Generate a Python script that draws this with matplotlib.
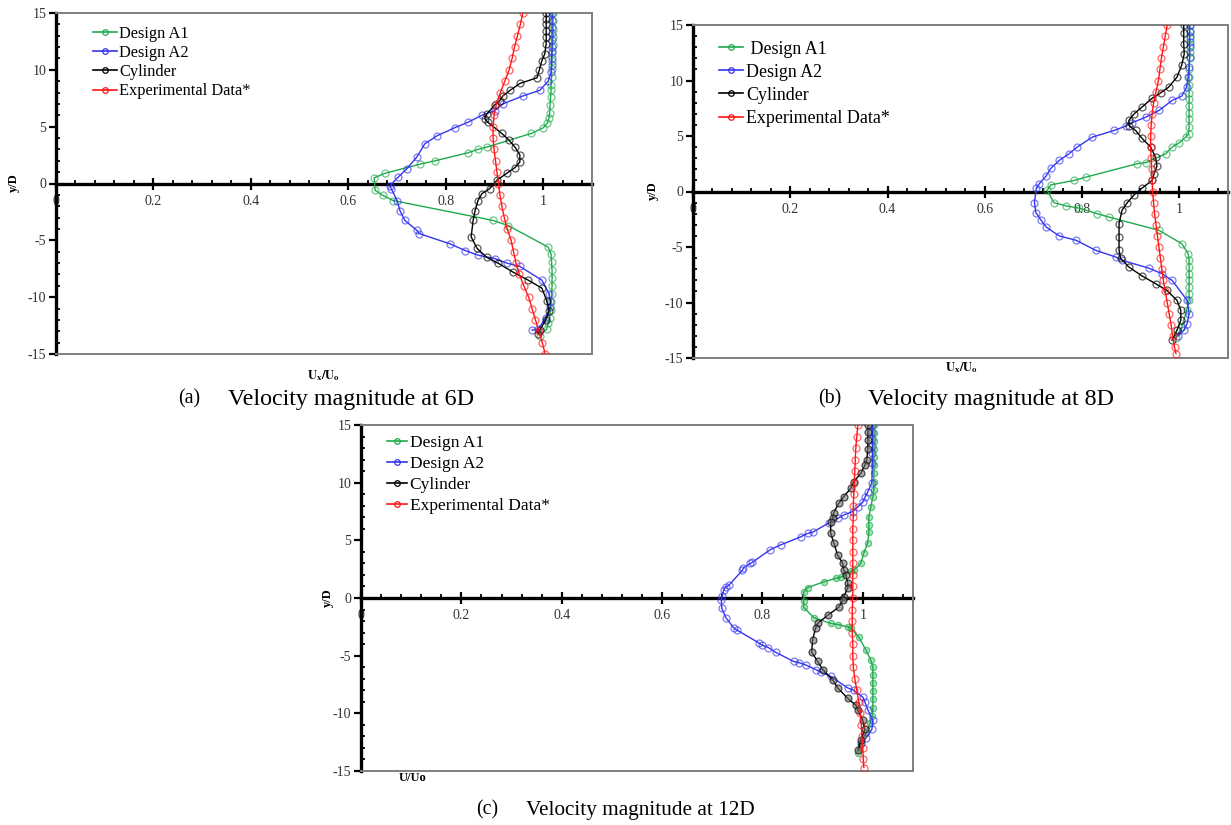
import matplotlib
matplotlib.use('Agg')
import matplotlib.pyplot as plt
from matplotlib.ticker import MultipleLocator, FuncFormatter
from matplotlib.lines import Line2D

plt.rcParams['font.family'] = ['Liberation Serif', 'DejaVu Serif']
plt.rcParams['mathtext.fontset'] = 'stix'
plt.rcParams['axes.unicode_minus'] = False

# ---------------- data ----------------
labels = ['Design A1', 'Design A2', 'Cylinder', 'Experimental Data*']
labels_b = [' Design A1', 'Design A2', 'Cylinder', 'Experimental Data*']
cap_tags = ['(a)', '(b)', '(c)']
cap_texts = ['Velocity magnitude at 6D', 'Velocity magnitude at 8D', 'Velocity magnitude at 12D']
x_ticks = [0, 0.2, 0.4, 0.6, 0.8, 1]
y_ticks = [-15, -10, -5, 0, 5, 10, 15]

# Panel (a) 6D
a_A1_y = [15, 14.3, 13.6, 12.9, 12.2, 11.5, 10.8, 10.1, 9.4, 8.7, 8.2, 7.6, 6.9, 6.2, 5.8, 5.3, 4.9, 4.4,
          3.2, 3.0, 2.7, 2.0, 1.7, 0.9, 0.5, -0.6, -1.05, -1.5, -3.25, -3.7, -5.6, -6.2, -6.9, -7.6,
          -8.3, -9.0, -9.7, -10.4, -11.1, -11.8, -12.3, -12.8, -13.4]
a_A1_u = [1.02, 1.02, 1.02, 1.02, 1.019, 1.018, 1.018, 1.017, 1.017, 1.016, 1.016, 1.015, 1.014, 1.013,
          1.012, 1.008, 1.0, 0.975, 0.884, 0.866, 0.845, 0.778, 0.747, 0.675, 0.653, 0.655, 0.671, 0.692,
          0.897, 0.928, 1.01, 1.016, 1.017, 1.018, 1.018, 1.018, 1.017, 1.016, 1.015, 1.013, 1.01, 1.007, 0.993]
a_A2_y = [15, 14.4, 13.8, 13.2, 12.6, 12.0, 11.7, 11.0, 10.4, 9.8, 9.0, 8.2, 7.7, 7.0, 6.4, 6.0, 5.4, 4.9,
          4.2, 3.5, 2.3, 1.3, 0.55, -0.2, -0.45, -1.5, -2.4, -3.25, -4.1, -4.4, -5.3, -5.9, -6.3, -6.6,
          -7.0, -7.3, -8.5, -9.7, -10.3, -10.9, -11.8, -12.8, -12.9]
a_A2_u = [1.018, 1.018, 1.018, 1.018, 1.018, 1.018, 1.018, 1.017, 1.017, 1.016, 1.01, 0.993, 0.958, 0.917,
          0.90, 0.874, 0.846, 0.818, 0.782, 0.757, 0.74, 0.72, 0.702, 0.685, 0.688, 0.70, 0.706, 0.716,
          0.74, 0.745, 0.808, 0.84, 0.866, 0.90, 0.925, 0.952, 0.997, 1.012, 1.014, 1.014, 1.005, 0.99, 0.977]
a_Cyl_y = [15, 14.5, 14.0, 13.4, 12.9, 12.3, 11.4, 10.8, 10.0, 9.3, 8.8, 8.2, 7.7, 7.3, 6.9, 6.1, 5.7, 5.4,
           4.4, 3.8, 3.2, 2.5, 1.9, 1.4, 0.9, 0.3, -0.45, -0.9, -1.5, -2.4, -3.25, -4.7, -5.7, -6.5, -7.0,
           -7.8, -8.5, -9.2, -10.3, -11.2, -12.0, -12.9, -13.2]
a_Cyl_u = [1.006, 1.006, 1.006, 1.006, 1.006, 1.006, 1.003, 0.997, 0.992, 0.987, 0.952, 0.932, 0.917, 0.911,
           0.90, 0.884, 0.880, 0.886, 0.915, 0.93, 0.942, 0.952, 0.952, 0.942, 0.925, 0.905, 0.89, 0.874,
           0.866, 0.86, 0.856, 0.852, 0.864, 0.884, 0.907, 0.938, 0.969, 0.997, 1.007, 1.012, 1.005, 0.993, 0.99]
a_Exp_y = [15, 14, 13, 12, 11, 10, 9, 8, 7, 6, 5, 4, 3, 2, 1, 0, -1, -2, -3, -4, -5, -6, -7, -8, -9, -10,
           -11, -12, -13, -14, -15]
a_Exp_u = [0.958, 0.953, 0.947, 0.941, 0.936, 0.930, 0.921, 0.912, 0.904, 0.899, 0.897, 0.897, 0.899, 0.902,
           0.905, 0.908, 0.911, 0.915, 0.920, 0.926, 0.934, 0.939, 0.944, 0.951, 0.960, 0.970, 0.977, 0.984,
           0.991, 0.998, 1.004]

# Panel (b) 8D
b_A1_y = [15, 14.4, 13.8, 13.2, 12.6, 12.0, 11.0, 10.3, 9.6, 8.9, 8.3, 7.7, 7.1, 6.5, 5.8, 5.2, 4.9, 4.4,
          4.0, 3.4, 2.6, 2.5, 1.3, 1.0, 0.6, 0.1, -1.0, -1.3, -1.5, -2.0, -2.3, -3.5, -4.7, -5.6, -6.2,
          -6.8, -7.4, -8.0, -8.6, -9.2, -9.8, -10.7, -12.2, -13.2]
b_A1_u = [1.021, 1.021, 1.021, 1.021, 1.021, 1.021, 1.02, 1.02, 1.02, 1.02, 1.02, 1.02, 1.02, 1.02, 1.02,
          1.019, 1.013, 1.0, 0.985, 0.972, 0.931, 0.913, 0.808, 0.784, 0.736, 0.728, 0.742, 0.767, 0.794,
          0.831, 0.855, 0.958, 1.005, 1.018, 1.02, 1.02, 1.02, 1.02, 1.02, 1.02, 1.02, 1.015, 1.005, 0.993]
b_A2_y = [15, 14.5, 14.0, 13.5, 13.0, 12.1, 11.2, 10.3, 9.4, 8.6, 8.2, 7.3, 6.7, 6.2, 5.9, 5.5, 4.9, 4.0,
          3.4, 2.8, 2.1, 1.4, 0.7, 0.3, -1.0, -1.9, -2.6, -3.2, -4.0, -4.4, -5.3, -5.9, -6.2, -6.9, -7.4,
          -8.0, -9.8, -11.0, -11.9, -12.5, -13.0]
b_A2_u = [1.021, 1.021, 1.021, 1.021, 1.021, 1.021, 1.02, 1.018, 1.015, 1.005, 0.985, 0.958, 0.931, 0.903,
          0.89, 0.866, 0.821, 0.79, 0.773, 0.753, 0.736, 0.726, 0.712, 0.706, 0.702, 0.705, 0.716, 0.726,
          0.753, 0.788, 0.828, 0.869, 0.882, 0.937, 0.964, 0.985, 1.016, 1.02, 1.016, 1.009, 0.998]
b_Cyl_y = [15, 14.3, 13.3, 12.4, 11.4, 10.3, 9.4, 8.9, 8.4, 7.6, 7.0, 6.4, 5.9, 5.5, 4.8, 4.0, 3.1, 2.3,
           1.6, 1.0, 0.3, -0.3, -1.0, -1.7, -2.9, -4.1, -5.3, -6.0, -6.8, -7.6, -8.3, -8.9, -9.8, -10.7,
           -11.6, -12.5, -13.4]
b_Cyl_u = [1.009, 1.009, 1.009, 1.01, 1.005, 0.995, 0.978, 0.962, 0.944, 0.923, 0.907, 0.896, 0.897, 0.91,
           0.923, 0.941, 0.951, 0.954, 0.948, 0.944, 0.923, 0.907, 0.893, 0.882, 0.876, 0.876, 0.876, 0.879,
           0.896, 0.923, 0.951, 0.974, 0.995, 1.003, 1.003, 0.995, 0.985]
b_Exp_y = [15, 14, 13, 12, 11, 10, 9, 8, 7, 6, 5, 4, 3, 2, 1, 0, -1, -2, -3, -4, -5, -6, -7, -8, -9, -10,
           -11, -12, -13, -14, -14.6]
b_Exp_u = [0.975, 0.971, 0.967, 0.963, 0.960, 0.957, 0.952, 0.947, 0.944, 0.942, 0.941, 0.941, 0.942, 0.943,
           0.944, 0.945, 0.947, 0.949, 0.952, 0.955, 0.958, 0.961, 0.964, 0.967, 0.971, 0.975, 0.979, 0.983,
           0.986, 0.990, 0.993]

# Panel (c) 12D
c_A1_y = [15, 14.3, 13.6, 12.9, 12.2, 11.5, 10.8, 10.1, 9.4, 8.8, 7.9, 7.0, 6.3, 5.7, 4.8, 3.9, 3.0, 2.4,
          2.3, 1.8, 1.7, 1.4, 0.9, 0.5, -0.3, -0.8, -1.7, -2.2, -2.3, -2.5, -2.6, -3.4, -4.5, -5.4, -6.0,
          -6.7, -7.4, -8.1, -8.8, -9.5, -10.2, -10.8, -11.7, -12.7, -13.4]
c_A1_u = [1.022, 1.022, 1.022, 1.022, 1.022, 1.022, 1.022, 1.022, 1.022, 1.02, 1.016, 1.012, 1.012, 1.012,
          1.01, 1.002, 0.996, 0.982, 0.976, 0.956, 0.946, 0.922, 0.89, 0.882, 0.882, 0.882, 0.902, 0.936,
          0.95, 0.97, 0.976, 0.992, 1.006, 1.016, 1.02, 1.02, 1.02, 1.02, 1.02, 1.02, 1.019, 1.015, 1.006,
          0.996, 0.99]
c_A2_y = [15, 14.4, 13.8, 13.2, 12.6, 11.7, 10.0, 9.2, 8.8, 8.3, 7.9, 7.5, 7.2, 6.9, 6.5, 5.7, 5.6, 5.3,
          4.6, 4.2, 3.1, 3.0, 2.6, 2.4, 1.1, 0.95, 0.7, 0.2, -0.2, -0.9, -1.7, -2.6, -2.8, -3.9, -4.1, -4.3,
          -4.7, -5.5, -5.6, -5.8, -6.2, -6.4, -6.8, -7.8, -8.0, -8.6, -9.0, -9.7, -10.6, -11.4, -12.1, -12.6]
c_A2_u = [1.019, 1.019, 1.019, 1.019, 1.019, 1.019, 1.018, 1.01, 1.005, 1.0, 0.99, 0.98, 0.962, 0.95, 0.932,
          0.90, 0.89, 0.876, 0.836, 0.816, 0.78, 0.776, 0.762, 0.76, 0.733, 0.727, 0.723, 0.72, 0.718, 0.719,
          0.727, 0.743, 0.75, 0.793, 0.80, 0.812, 0.826, 0.862, 0.872, 0.886, 0.906, 0.916, 0.936, 0.97,
          0.982, 1.0, 1.004, 1.01, 1.02, 1.018, 1.007, 0.996]
c_Cyl_y = [15, 14.4, 13.7, 12.9, 12.0, 11.5, 10.8, 10.1, 9.5, 8.8, 8.2, 7.4, 6.9, 6.6, 5.6, 4.8, 3.7, 3.0,
           2.4, 2.0, 1.3, 0.9, 0.1, -0.2, -0.8, -1.5, -2.2, -2.6, -3.6, -4.7, -5.5, -6.2, -7.1, -7.8, -8.7,
           -9.3, -9.7, -10.6, -11.4, -12.3, -13.2]
c_Cyl_u = [1.01, 1.01, 1.01, 1.01, 1.008, 1.004, 0.996, 0.982, 0.976, 0.962, 0.952, 0.942, 0.94, 0.936,
           0.936, 0.942, 0.95, 0.96, 0.962, 0.966, 0.97, 0.97, 0.962, 0.96, 0.952, 0.93, 0.91, 0.906, 0.90,
           0.898, 0.91, 0.92, 0.94, 0.95, 0.97, 0.986, 0.99, 1.0, 1.004, 0.996, 0.99]
c_Exp_y = [15, 14, 13, 12, 11, 10, 9, 8, 7, 6, 5, 4, 3, 2, 1, 0, -1, -2, -3, -4, -5, -6, -7, -8, -9, -10,
           -11, -12, -13, -14, -14.7]
c_Exp_u = [0.990, 0.988, 0.986, 0.985, 0.984, 0.983, 0.982, 0.981, 0.981, 0.980, 0.980, 0.980, 0.980, 0.980,
           0.980, 0.980, 0.979, 0.979, 0.979, 0.980, 0.980, 0.981, 0.984, 0.988, 0.992, 0.995, 0.997, 0.998,
           1.000, 1.001, 1.002]

# ---------------- style ----------------
colors = ['#1faa4c', '#3535f0', '#000000', '#ff1414']
W, H = 1231, 825


def frac_rect(l, t, r, b):
    return [l / W, 1 - b / H, (r - l) / W, (b - t) / H]


fig = plt.figure(figsize=(W / 100, H / 100), dpi=100)

panels = [
    dict(rect=frac_rect(56, 13, 592, 354), data=[(a_A1_u, a_A1_y), (a_A2_u, a_A2_y), (a_Cyl_u, a_Cyl_y), (a_Exp_u, a_Exp_y)],
         labels=labels, leg=(93, 25.5), legfs=11.8, legsp=0.2, hl=1.45, filled=False,
         ylab=(14, 183), xlab=(324, 376), xlabtext=r'$\mathbf{U_x/U_o}$', cap=(178, 228, 399), capfs=17.3),
    dict(rect=frac_rect(693, 25, 1228, 358), data=[(b_A1_u, b_A1_y), (b_A2_u, b_A2_y), (b_Cyl_u, b_Cyl_y), (b_Exp_u, b_Exp_y)],
         labels=labels_b, leg=(719, 40.5), legfs=12.9, legsp=0.34, hl=1.35, filled=False,
         ylab=(653, 191), xlab=(962, 368), xlabtext=r'$\mathbf{U_x/U_o}$', cap=(818, 868, 399), capfs=17.3),
    dict(rect=frac_rect(361, 425, 913, 771), data=[(c_A1_u, c_A1_y), (c_A2_u, c_A2_y), (c_Cyl_u, c_Cyl_y), (c_Exp_u, c_Exp_y)],
         labels=labels, leg=(387, 435), legfs=12.5, legsp=0.28, hl=1.15, filled=True,
         ylab=(328, 598), xlab=(413, 778), xlabtext='U/Uo', cap=(476, 526, 810), capfs=15.3),
]

fmt = FuncFormatter(lambda v, p: '%g' % round(v, 2))

for i, P in enumerate(panels):
    ax = fig.add_axes(P['rect'])
    ax.set_xlim(0, 1.1)
    ax.set_ylim(-15, 15)
    for j, (u, y) in enumerate(P['data']):
        c = matplotlib.colors.to_rgb(colors[j])
        if P['filled'] and j in (0, 2):
            mfc = (*c, 0.35) if j == 0 else (0.45, 0.45, 0.45, 0.6)
            ms = 4.5 if j == 0 else 5
        else:
            mfc = 'none'
            ms = 5
        ax.plot(u, y, '-', color=colors[j], lw=1.0, marker='o', ms=ms, mfc=mfc,
                mec=(*c, 0.65), mew=0.9, zorder=3 + j)
    for s in ['top', 'right', 'bottom']:
        ax.spines[s].set_color('#7f7f7f')
        ax.spines[s].set_linewidth(1.4)
    ax.spines['left'].set_color('black')
    ax.spines['left'].set_linewidth(2.4)
    ax.tick_params(axis='x', which='both', bottom=False, labelbottom=False)
    ax.set_yticks(y_ticks)
    ax.yaxis.set_minor_locator(MultipleLocator(1))
    ax.tick_params(axis='y', which='major', direction='out', length=5, width=1.6,
                   labelsize=10, labelcolor='#333333', pad=2)
    ax.tick_params(axis='y', which='minor', direction='in', length=3, width=1.3)

    sec = ax.secondary_xaxis(0.5)
    sec.set_alignment('bottom')
    sec.spines['bottom'].set_linewidth(2.4)
    sec.spines['bottom'].set_color('black')
    sec.spines['top'].set_visible(False)
    sec.set_xticks(x_ticks)
    sec.xaxis.set_major_formatter(fmt)
    sec.xaxis.set_minor_locator(MultipleLocator(0.04))
    sec.tick_params(which='major', direction='inout', length=8, width=1.6,
                    labelsize=10, labelcolor='#333333', pad=4)
    sec.tick_params(which='minor', direction='in', length=3, width=1.3)

    handles = [Line2D([], [], color=colors[j], lw=1.2, marker='o', ms=4, mfc='none',
                      mec=colors[j], mew=0.9) for j in range(4)]
    lx, ly = P['leg']
    ax.legend(handles, P['labels'], loc='upper left', bbox_to_anchor=(lx / W, 1 - ly / H),
              bbox_transform=fig.transFigure, frameon=False, fontsize=P['legfs'],
              handlelength=P['hl'], handletextpad=0.15, labelspacing=P['legsp'],
              borderpad=0, borderaxespad=0)

    fig.text(P['ylab'][0] / W, 1 - P['ylab'][1] / H, 'y/D', rotation=90, fontsize=9,
             fontweight='bold', ha='center', va='center')
    fig.text(P['xlab'][0] / W, 1 - P['xlab'][1] / H, P['xlabtext'], fontsize=9,
             fontweight='bold', ha='center', va='center')
    tx, px, cy = P['cap']
    fig.text(tx / W, 1 - cy / H, cap_tags[i], fontsize=14.3, ha='left', va='center')
    fig.text(px / W, 1 - cy / H, cap_texts[i], fontsize=P['capfs'], ha='left', va='center')

fig.savefig('out.png', dpi=100)
